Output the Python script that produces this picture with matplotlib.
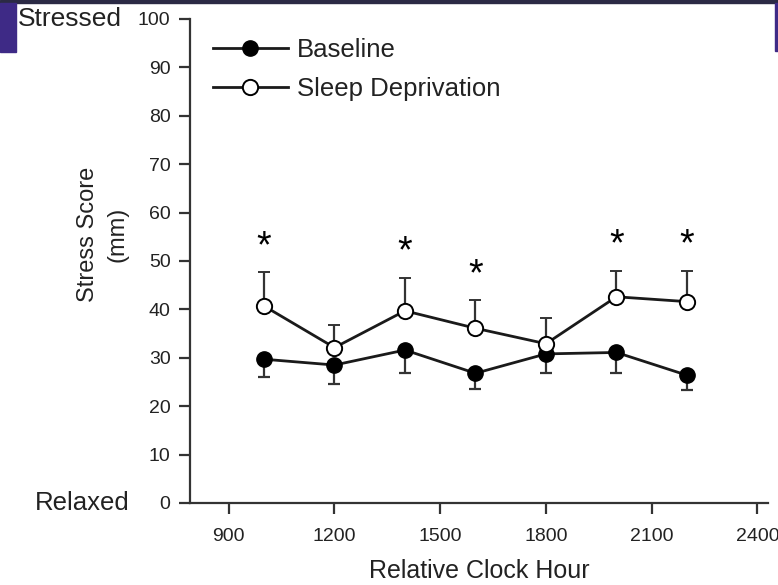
import matplotlib.pyplot as plt
from matplotlib.patches import Rectangle

# data
hours = [1000, 1200, 1400, 1600, 1800, 2000, 2200]
baseline = [29.7, 28.5, 31.6, 26.8, 30.8, 31.1, 26.4]
baseline_err = [3.6, 4.0, 4.7, 3.3, 4.0, 4.2, 3.1]
sleep_dep = [40.7, 32.1, 39.7, 36.1, 32.9, 42.6, 41.6]
sleep_dep_err = [7.0, 4.7, 6.8, 5.8, 5.3, 5.4, 6.4]
significant = [True, False, True, True, False, True, True]

xticks = [900, 1200, 1500, 1800, 2100, 2400]
yticks = [0, 10, 20, 30, 40, 50, 60, 70, 80, 90, 100]

plt.rcParams['font.family'] = ['Liberation Sans', 'DejaVu Sans']

fig = plt.figure(figsize=(7.78, 5.85), dpi=100)
ax = fig.add_axes([0.2442, 0.1402, 0.7429, 0.8274])

# slide frame bits around the picture
fig.patches.append(Rectangle((0, 0.995), 1, 0.005, transform=fig.transFigure,
                             color='#2b2a45', zorder=0))
fig.patches.append(Rectangle((0, 0.911), 0.021, 0.084, transform=fig.transFigure,
                             color='#3e2a86', zorder=0))
fig.patches.append(Rectangle((0.996, 0.913), 0.004, 0.082, transform=fig.transFigure,
                             color='#3e2a86', zorder=0))

line_col = '#1a1a1a'
err_col = '#333333'
n = len(hours)

# baseline: filled circles, error bars downward
eb1 = ax.errorbar(hours, baseline, yerr=[baseline_err, [0] * n], color=line_col,
                  ecolor=err_col, elinewidth=1.6, capsize=4.5, capthick=1.6,
                  lw=2, marker='o', ms=11, mfc='black', mec='black', zorder=3)

# sleep deprivation: open circles, error bars upward
eb2 = ax.errorbar(hours, sleep_dep, yerr=[[0] * n, sleep_dep_err], color=line_col,
                  ecolor=err_col, elinewidth=1.6, capsize=4.5, capthick=1.6,
                  lw=2, marker='o', ms=11, mfc='white', mec='black', mew=1.4,
                  zorder=4)

# asterisks above significant points
for h, v, e, s in zip(hours, sleep_dep, sleep_dep_err, significant):
    if s:
        ax.text(h, v + e + 1.5, '*', ha='center', va='bottom',
                fontsize=27, color='black')

ax.set_xlim(790, 2430)
ax.set_ylim(0, 100)
ax.set_xticks(xticks)
ax.set_yticks(yticks)

for side in ['top', 'right']:
    ax.spines[side].set_visible(False)
for side in ['left', 'bottom']:
    ax.spines[side].set_linewidth(1.6)
    ax.spines[side].set_color('#333333')

ax.tick_params(axis='both', direction='out', length=8, width=1.6,
               color='#333333', labelsize=14, labelcolor='#222222')
ax.tick_params(axis='x', pad=10)
ax.tick_params(axis='y', pad=6)

ax.set_xlabel('Relative Clock Hour', fontsize=18, color='#222222', labelpad=10)
ax.set_ylabel('Stress Score\n(mm)', fontsize=17, color='#222222',
              va='center', linespacing=1.45)
ax.yaxis.set_label_coords(-0.151, 0.554)

# legend with plain line+marker handles (no error bars)
leg = ax.legend([eb1[0], eb2[0]], ['Baseline', 'Sleep Deprivation'],
                loc='upper left', bbox_to_anchor=(0.040, 0.960), frameon=False,
                fontsize=18.5, handlelength=2.9, handletextpad=0.35,
                borderpad=0, borderaxespad=0, labelspacing=0.58)
for t in leg.get_texts():
    t.set_color('#222222')

fig.text(0.023, 0.9675, 'Stressed', fontsize=19, color='#222222',
         ha='left', va='center')
fig.text(0.167, 0.1402, 'Relaxed', fontsize=18.5, color='#222222',
         ha='right', va='center')

fig.savefig('out.png', dpi=100)
